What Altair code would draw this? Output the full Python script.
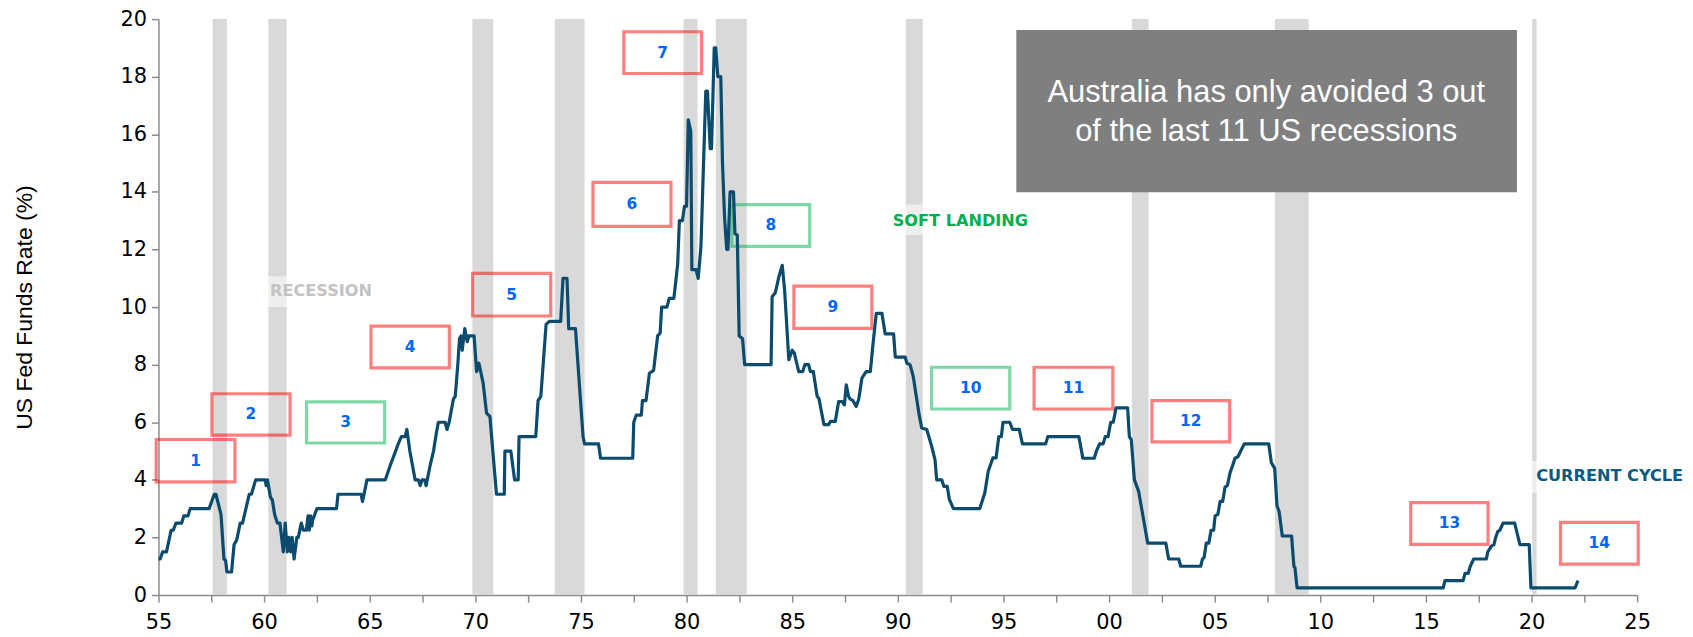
import altair as alt
import pandas as pd

# ---------------- data ----------------
years = [1955.0, 1955.08, 1955.2, 1955.38, 1955.6, 1955.7, 1955.83, 1956.1, 1956.2, 1956.4, 1956.5, 1957.4,
         1957.64, 1957.72, 1957.96, 1958.1, 1958.18, 1958.24, 1958.46, 1958.58, 1958.7, 1958.87, 1958.98,
         1959.06, 1959.3, 1959.4, 1959.6, 1960.05, 1960.1, 1960.16, 1960.3, 1960.39, 1960.5, 1960.63, 1960.75,
         1960.91, 1961.0, 1961.1, 1961.18, 1961.26, 1961.33, 1961.42, 1961.55, 1961.62, 1961.76, 1961.86,
         1962.0, 1962.08, 1962.14, 1962.2, 1962.26, 1962.3, 1962.5, 1963.43, 1963.5, 1964.59, 1964.66, 1964.87,
         1965.74, 1965.97, 1966.1, 1966.35, 1966.5, 1966.68, 1966.76, 1966.9, 1967.15, 1967.3, 1967.39, 1967.48,
         1967.6, 1967.67, 1967.86, 1968.02, 1968.15, 1968.25, 1968.57, 1968.66, 1968.76, 1968.96, 1969.05,
         1969.17, 1969.25, 1969.32, 1969.38, 1969.5, 1969.62, 1969.7, 1969.94, 1970.06, 1970.17, 1970.37,
         1970.53, 1970.69, 1971.0, 1971.37, 1971.4, 1971.68, 1971.86, 1972.03, 1972.07, 1972.86, 1972.97,
         1973.1, 1973.35, 1973.5, 1974.04, 1974.15, 1974.34, 1974.42, 1974.74, 1975.1, 1975.17, 1975.83,
         1975.93, 1977.45, 1977.5, 1977.62, 1977.86, 1977.91, 1978.08, 1978.24, 1978.44, 1978.63, 1978.75,
         1978.82, 1979.07, 1979.18, 1979.4, 1979.58, 1979.66, 1979.8, 1979.9, 1980.0, 1980.08, 1980.2,
         1980.25, 1980.45, 1980.55, 1980.68, 1980.91, 1980.99, 1981.12, 1981.18, 1981.31, 1981.38, 1981.48,
         1981.62, 1981.7, 1981.8, 1981.9, 1981.96, 1982.06, 1982.22, 1982.29, 1982.4, 1982.49, 1982.65,
         1982.75, 1984.0, 1984.05, 1984.2, 1984.37, 1984.53, 1984.64, 1984.84, 1985.0, 1985.1, 1985.31,
         1985.5, 1985.6, 1985.78, 1985.86, 1986.0, 1986.18, 1986.26, 1986.5, 1986.73, 1986.81, 1987.04,
         1987.2, 1987.36, 1987.47, 1987.56, 1987.67, 1987.75, 1987.88, 1988.03, 1988.15, 1988.3, 1988.5,
         1988.7, 1988.82, 1988.98, 1989.25, 1989.4, 1989.8, 1989.88, 1990.35, 1990.43, 1990.58, 1990.73,
         1990.9, 1991.0, 1991.13, 1991.37, 1991.6, 1991.76, 1991.84, 1992.08, 1992.18, 1992.34, 1992.44,
         1992.63, 1993.88, 1994.12, 1994.28, 1994.5, 1994.65, 1994.78, 1994.9, 1994.98, 1995.3, 1995.43,
         1995.75, 1995.9, 1997.0, 1997.1, 1998.57, 1998.76, 1999.3, 1999.4, 1999.55, 1999.72, 1999.82,
         1999.95, 2000.08, 2000.2, 2000.33, 2000.88, 2000.96, 2001.05, 2001.2, 2001.3, 2001.4, 2001.83,
         2002.69, 2002.82, 2003.3, 2003.39, 2004.34, 2004.42, 2004.5, 2004.6, 2004.72, 2004.83, 2004.95,
         2005.02, 2005.15, 2005.26, 2005.38, 2005.49, 2005.6, 2005.73, 2005.85, 2005.96, 2006.1, 2006.4,
         2007.56, 2007.68, 2007.84, 2007.95, 2008.05, 2008.2, 2008.64, 2008.75, 2008.8, 2008.9, 2015.82,
         2015.9, 2016.76, 2016.85, 2017.0, 2017.1, 2017.26, 2017.86, 2017.93, 2018.1, 2018.22, 2018.3,
         2018.4, 2018.5, 2018.65, 2019.2, 2019.45, 2019.89, 2019.97, 2022.06, 2022.2]
rates = [1.25, 1.25, 1.5, 1.5, 2.25, 2.25, 2.5, 2.5, 2.75, 2.75, 3.0, 3.0,
         3.5, 3.5, 2.8, 1.25, 1.2, 0.8, 0.8, 1.75, 1.9, 2.5, 2.5,
         2.75, 3.5, 3.5, 4.0, 4.0, 3.8, 4.0, 3.4, 3.3, 2.8, 2.5, 2.5,
         1.5, 2.5, 1.5, 2.0, 1.5, 2.0, 1.25, 2.0, 2.0, 2.5, 2.25,
         2.25, 2.75, 2.25, 2.75, 2.4, 2.6, 3.0, 3.0, 3.5, 3.5, 3.25, 4.0,
         4.0, 4.5, 4.75, 5.25, 5.5, 5.5, 5.75, 5.0, 4.0, 4.0, 3.8, 4.0,
         4.0, 3.8, 4.5, 5.0, 5.6, 6.0, 6.0, 5.75, 6.0, 6.8, 6.9,
         8.0, 8.9, 9.0, 8.5, 9.25, 8.8, 9.0, 9.0, 7.76, 8.05, 7.36,
         6.32, 6.2, 3.5, 3.5, 5.0, 5.0, 4.0, 4.0, 5.5, 5.5, 6.75,
         6.9, 9.4, 9.5, 9.5, 11.0, 11.0, 9.25, 9.25, 5.5, 5.25, 5.25,
         4.75, 4.75, 6.0, 6.25, 6.25, 6.75, 6.75, 7.7, 7.8, 9.0, 9.1,
         10.0, 10.0, 10.3, 10.3, 11.5, 13.0, 13.0, 13.5, 13.5, 16.5, 16.1,
         11.3, 11.3, 11.0, 12.1, 17.5, 17.5, 15.5, 15.5, 19.0, 19.0, 18.0,
         18.0, 15.0, 13.1, 12.0, 12.0, 14.0, 14.0, 12.55, 12.5, 9.0, 8.9,
         8.0, 8.0, 10.36, 10.5, 11.05, 11.45, 10.6, 8.17, 8.5, 8.4, 7.76,
         7.76, 8.0, 8.0, 7.76, 7.76, 6.9, 6.84, 5.92, 5.92, 6.03, 6.03,
         6.72, 6.72, 6.6, 7.3, 6.9, 6.8, 6.75, 6.55, 6.8, 7.53, 7.76,
         7.76, 8.68, 9.78, 9.78, 9.07, 9.07, 8.26, 8.26, 8.05, 8.0, 7.59,
         6.78, 6.3, 5.8, 5.75, 5.17, 4.7, 4.0, 4.0, 3.77, 3.77, 3.32,
         3.0, 3.0, 3.55, 4.3, 4.76, 4.76, 5.5, 5.5, 6.0, 6.0, 5.75,
         5.75, 5.25, 5.25, 5.5, 5.5, 4.75, 4.75, 5.0, 5.25, 5.25, 5.5,
         5.5, 6.0, 6.0, 6.5, 6.5, 5.5, 5.4, 4.0, 3.8, 3.6, 1.8,
         1.8, 1.25, 1.25, 1.0, 1.0, 1.25, 1.3, 1.8, 1.8, 2.25, 2.25,
         2.75, 2.8, 3.25, 3.25, 3.75, 3.8, 4.25, 4.5, 4.75, 4.8, 5.25,
         5.25, 4.6, 4.4, 3.1, 2.9, 2.05, 2.05, 1.0, 0.95, 0.25, 0.25,
         0.5, 0.5, 0.75, 0.75, 1.0, 1.25, 1.25, 1.5, 1.7, 1.75, 2.0,
         2.2, 2.25, 2.5, 2.5, 1.75, 1.75, 0.25, 0.25, 0.5]

rec_start = [1957.56, 1960.2, 1969.86, 1973.76, 1979.86, 1981.38, 1990.38, 2001.08, 2007.85, 2020.03]
rec_end = [1958.24, 1961.07, 1970.85, 1975.17, 1980.52, 1982.85, 1991.18, 2001.87, 2009.45, 2020.24]

box_num = ["1", "2", "3", "4", "5", "6", "7", "8", "9", "10", "11", "12", "13", "14"]
box_outcome = ["recession", "recession", "soft landing", "recession", "recession", "recession", "recession",
               "soft landing", "recession", "soft landing", "recession", "recession", "recession", "recession"]
box_x0 = [1954.89, 1957.53, 1962.01, 1965.06, 1969.87, 1975.57, 1977.03, 1982.14, 1985.08, 1991.6, 1996.45,
          2002.03, 2014.28, 2021.37]
box_x1 = [1958.62, 1961.23, 1965.71, 1968.77, 1973.57, 1979.26, 1980.71, 1985.83, 1988.77, 1995.3, 2000.18,
          2005.71, 2017.94, 2025.05]
box_y0 = [3.93, 5.55, 5.28, 7.89, 9.69, 12.80, 18.11, 12.11, 9.26, 6.46, 6.46, 5.32, 1.76, 1.07]
box_y1 = [5.40, 6.99, 6.71, 9.34, 11.17, 14.33, 19.56, 13.56, 10.73, 7.91, 7.91, 6.75, 3.21, 2.52]

label_text = ["RECESSION", "SOFT LANDING", "CURRENT CYCLE"]
label_x = [1960.28, 1989.76, 2020.22]
label_y = [10.55, 13.0, 4.15]
label_bg_x0 = [1960.05, 1989.55, 2019.95]
label_bg_x1 = [1965.3, 1996.3, 2025.2]
label_bg_y0 = [10.0, 12.5, 3.55]
label_bg_y1 = [11.07, 13.56, 4.65]

note_lines = ["Australia has only avoided 3 out", "of the last 11 US recessions"]
note_x = 2007.44
note_line_y = [17.42, 16.07]
note_box = [1995.61, 2019.31, 13.99, 19.62]

x_ticks = [1955 + 2.5 * i for i in range(29)]
y_ticks = [0, 2, 4, 6, 8, 10, 12, 14, 16, 18, 20]

# ---------------- frames ----------------
line_df = pd.DataFrame({"year": years, "rate": rates})
rec_df = pd.DataFrame({"start": rec_start, "end": rec_end})
box_df = pd.DataFrame({"num": box_num, "outcome": box_outcome, "x0": box_x0, "x1": box_x1,
                       "y0": box_y0, "y1": box_y1})
lab_df = pd.DataFrame({"text": label_text, "x": label_x, "y": label_y,
                       "bx0": label_bg_x0, "bx1": label_bg_x1, "by0": label_bg_y0, "by1": label_bg_y1})
note_df = pd.DataFrame({"text": note_lines, "x": [note_x] * 2, "y": note_line_y})
note_box_df = pd.DataFrame({"x0": [note_box[0]], "x1": [note_box[1]], "y0": [note_box[2]], "y1": [note_box[3]]})

XS = alt.Scale(domain=[1955, 2025], nice=False, zero=False)
YS = alt.Scale(domain=[0, 20], nice=False, zero=True)

X_AXIS = alt.Axis(values=x_ticks, labelOverlap=False, labelFlush=False, title=None, labelPadding=10,
                  labelExpr="datum.value % 5 == 0 ? slice(toString(datum.value), 2) : ''")
Y_AXIS = alt.Axis(values=y_ticks, labelOverlap=False, labelFlush=False, title="US Fed Funds Rate (%)",
                  labelPadding=5,
                  titleX=-134, titleY=289, titleAngle=270, titleBaseline="middle", titleAlign="center")


def X(field):
    return alt.X(field, type="quantitative", scale=XS, axis=X_AXIS)


def Y(field):
    return alt.Y(field, type="quantitative", scale=YS, axis=Y_AXIS)


bands = alt.Chart(rec_df).transform_calculate(
    top="20", bottom="0"
).mark_rect(color="#d9d9d9").encode(
    x=X("start"), x2="end", y=Y("top"), y2="bottom:Q"
)

lab_bg = alt.Chart(lab_df).mark_rect(color="white", opacity=0.55).encode(
    x=X("bx0"), x2="bx1", y=Y("by1"), y2="by0"
)

boxes = alt.Chart(box_df).mark_rect(fillOpacity=0, strokeWidth=3.2, strokeOpacity=0.5).encode(
    x=X("x0"), x2="x1", y=Y("y1"), y2="y0",
    stroke=alt.Stroke("outcome:N", scale=alt.Scale(domain=["recession", "soft landing"],
                                                   range=["#ff0000", "#00b050"]), legend=None)
)

line = alt.Chart(line_df).mark_line(color="#0a4b6e", strokeWidth=3.2, strokeJoin="round").encode(
    x=X("year"), y=Y("rate")
)

box_txt = alt.Chart(box_df).transform_calculate(
    cx="(datum.x0 + datum.x1) / 2", cy="(datum.y0 + datum.y1) / 2"
).mark_text(font="DejaVu Sans", fontWeight="bold", fontSize=15.5, color="#0066ff", baseline="middle").encode(
    x=X("cx"), y=Y("cy"), text="num:N"
)

label_colors = {"RECESSION": "#c3c3c3", "SOFT LANDING": "#00b050", "CURRENT CYCLE": "#0b5b80"}
labels = [
    alt.Chart(lab_df).transform_filter(alt.datum.text == t).mark_text(
        font="DejaVu Sans", fontWeight="bold", fontSize=16.2, color=c, align="left", baseline="middle"
    ).encode(x=X("x"), y=Y("y"), text="text:N")
    for t, c in label_colors.items()
]

note_rect = alt.Chart(note_box_df).mark_rect(color="#7f7f7f").encode(
    x=X("x0"), x2="x1", y=Y("y1"), y2="y0"
)
note_txt = alt.Chart(note_df).mark_text(font="Liberation Sans", fontSize=31, color="white",
                                        align="center", baseline="middle").encode(
    x=X("x"), y=Y("y"), text="text:N"
)

chart = alt.layer(bands, lab_bg, boxes, line, box_txt, *labels, note_rect, note_txt).properties(
    width=1484, height=578,
    autosize=alt.AutoSizeParams(type="none"),
    padding={"left": 151, "top": 10, "right": 48, "bottom": 42},
).configure_view(stroke=None).configure_axis(
    grid=False, domainColor="#8c8c8c", domainWidth=1.5, tickColor="#8c8c8c", tickWidth=1.5, tickSize=7,
    labelFont="DejaVu Sans", labelFontSize=21, labelColor="#000000",
    titleFont="Liberation Sans", titleFontSize=23, titleFontWeight="normal", titleColor="#000000"
)

chart.save("out.html", embed_options={"renderer": "svg", "actions": False})
